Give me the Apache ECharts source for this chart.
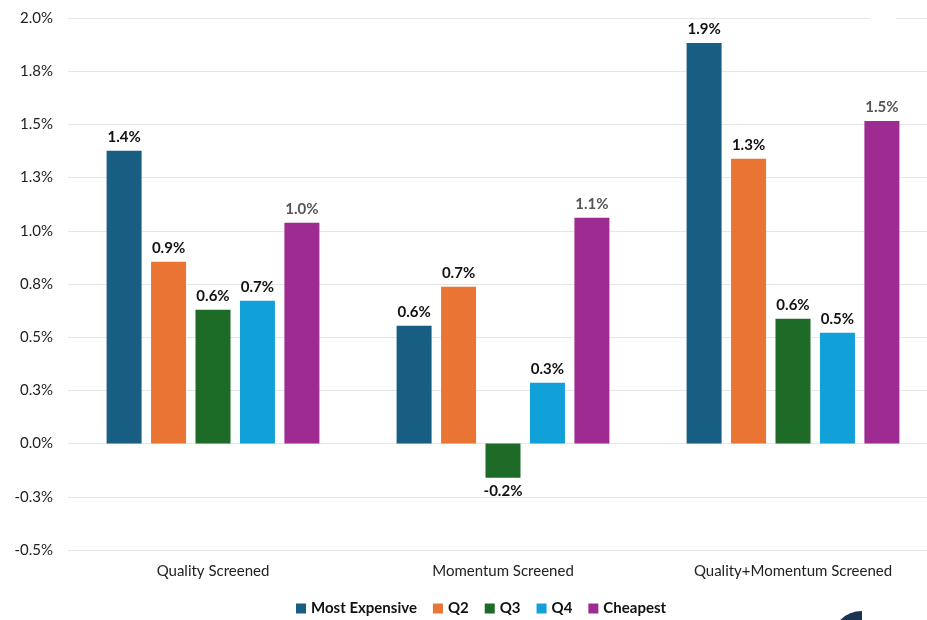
<!DOCTYPE html>
<html>
<head>
<meta charset="utf-8">
<script src="https://cdn.jsdelivr.net/npm/echarts@6/dist/echarts.min.js"></script>
<style>
  html, body { margin: 0; padding: 0; background: #fff; }
  #chart { width: 927px; height: 620px; }
</style>
</head>
<body>
<div id="chart"></div>
<script>
// Screens (x-axis categories)
const categories = ['Quality Screened', 'Momentum Screened', 'Quality+Momentum Screened'];

// Valuation quintiles, average return (%)
const seriesNames = ['Most Expensive', 'Q2', 'Q3', 'Q4', 'Cheapest'];
const mostExpensive = [1.376, 0.554, 1.883];
const q2 = [0.854, 0.737, 1.338];
const q3 = [0.629, -0.16, 0.587];
const q4 = [0.671, 0.286, 0.521];
const cheapest = [1.038, 1.061, 1.516];

// Value axis ticks
const yMin = -0.5;
const yMax = 2.0;
const yStep = 0.25;

const colors = ['#175E82', '#E97434', '#1D6B27', '#12A0D8', '#9E2B92'];
const seriesValues = [mostExpensive, q2, q3, q4, cheapest];
const font = 'Lato, "Open Sans", sans-serif';

const chart = echarts.init(document.getElementById('chart'));

const series = seriesNames.map((name, i) => ({
  name: name,
  type: 'bar',
  // negative bars carry their label beneath the bar
  data: seriesValues[i].map(v => v < 0 ? { value: v, label: { position: 'bottom' } } : v),
  barWidth: 35,
  barGap: '27%',
  itemStyle: { color: colors[i] },
  label: {
    show: true,
    position: 'top',
    distance: 6,
    fontFamily: font,
    fontSize: 15,
    fontWeight: 'bold',
    color: i === 4 ? '#555555' : '#111111',
    formatter: p => p.value.toFixed(1) + '%'
  }
}));

chart.setOption({
  animation: false,
  color: colors,
  // the plot runs a little past the right edge of the canvas
  grid: { left: 68, width: 870, top: 18, bottom: 70, outerBoundsMode: 'none', containLabel: false },
  legend: {
    bottom: -1,
    left: 291,
    itemWidth: 10,
    itemHeight: 10,
    itemGap: 16,
    icon: 'rect',
    textStyle: { fontFamily: font, fontSize: 15, fontWeight: 'bold', color: '#111' },
    data: seriesNames
  },
  graphic: [
    // blank patch over the top gridline
    { type: 'rect', z: 100, shape: { x: 869, y: 14, width: 27, height: 8 }, style: { fill: '#ffffff' } },
    // corner of the brand mark
    { type: 'sector', z: 100, shape: { cx: 862, cy: 642, r: 31, r0: 0, startAngle: Math.PI, endAngle: Math.PI * 1.5, clockwise: true },
      style: { fill: '#1B3350' } }
  ],
  xAxis: {
    type: 'category',
    data: categories,
    axisLine: { show: false },
    axisTick: { show: false },
    axisLabel: { fontFamily: font, fontSize: 15, color: '#222', margin: 14 }
  },
  yAxis: {
    type: 'value',
    min: yMin,
    max: yMax,
    interval: yStep,
    axisLine: { show: false },
    axisTick: { show: false },
    splitLine: { lineStyle: { color: '#e6e6e6', width: 1 } },
    axisLabel: {
      fontFamily: font,
      fontSize: 15,
      color: '#222',
      margin: 15,
      formatter: v => v.toFixed(1) + '%'
    }
  },
  series: series
});
</script>
</body>
</html>
